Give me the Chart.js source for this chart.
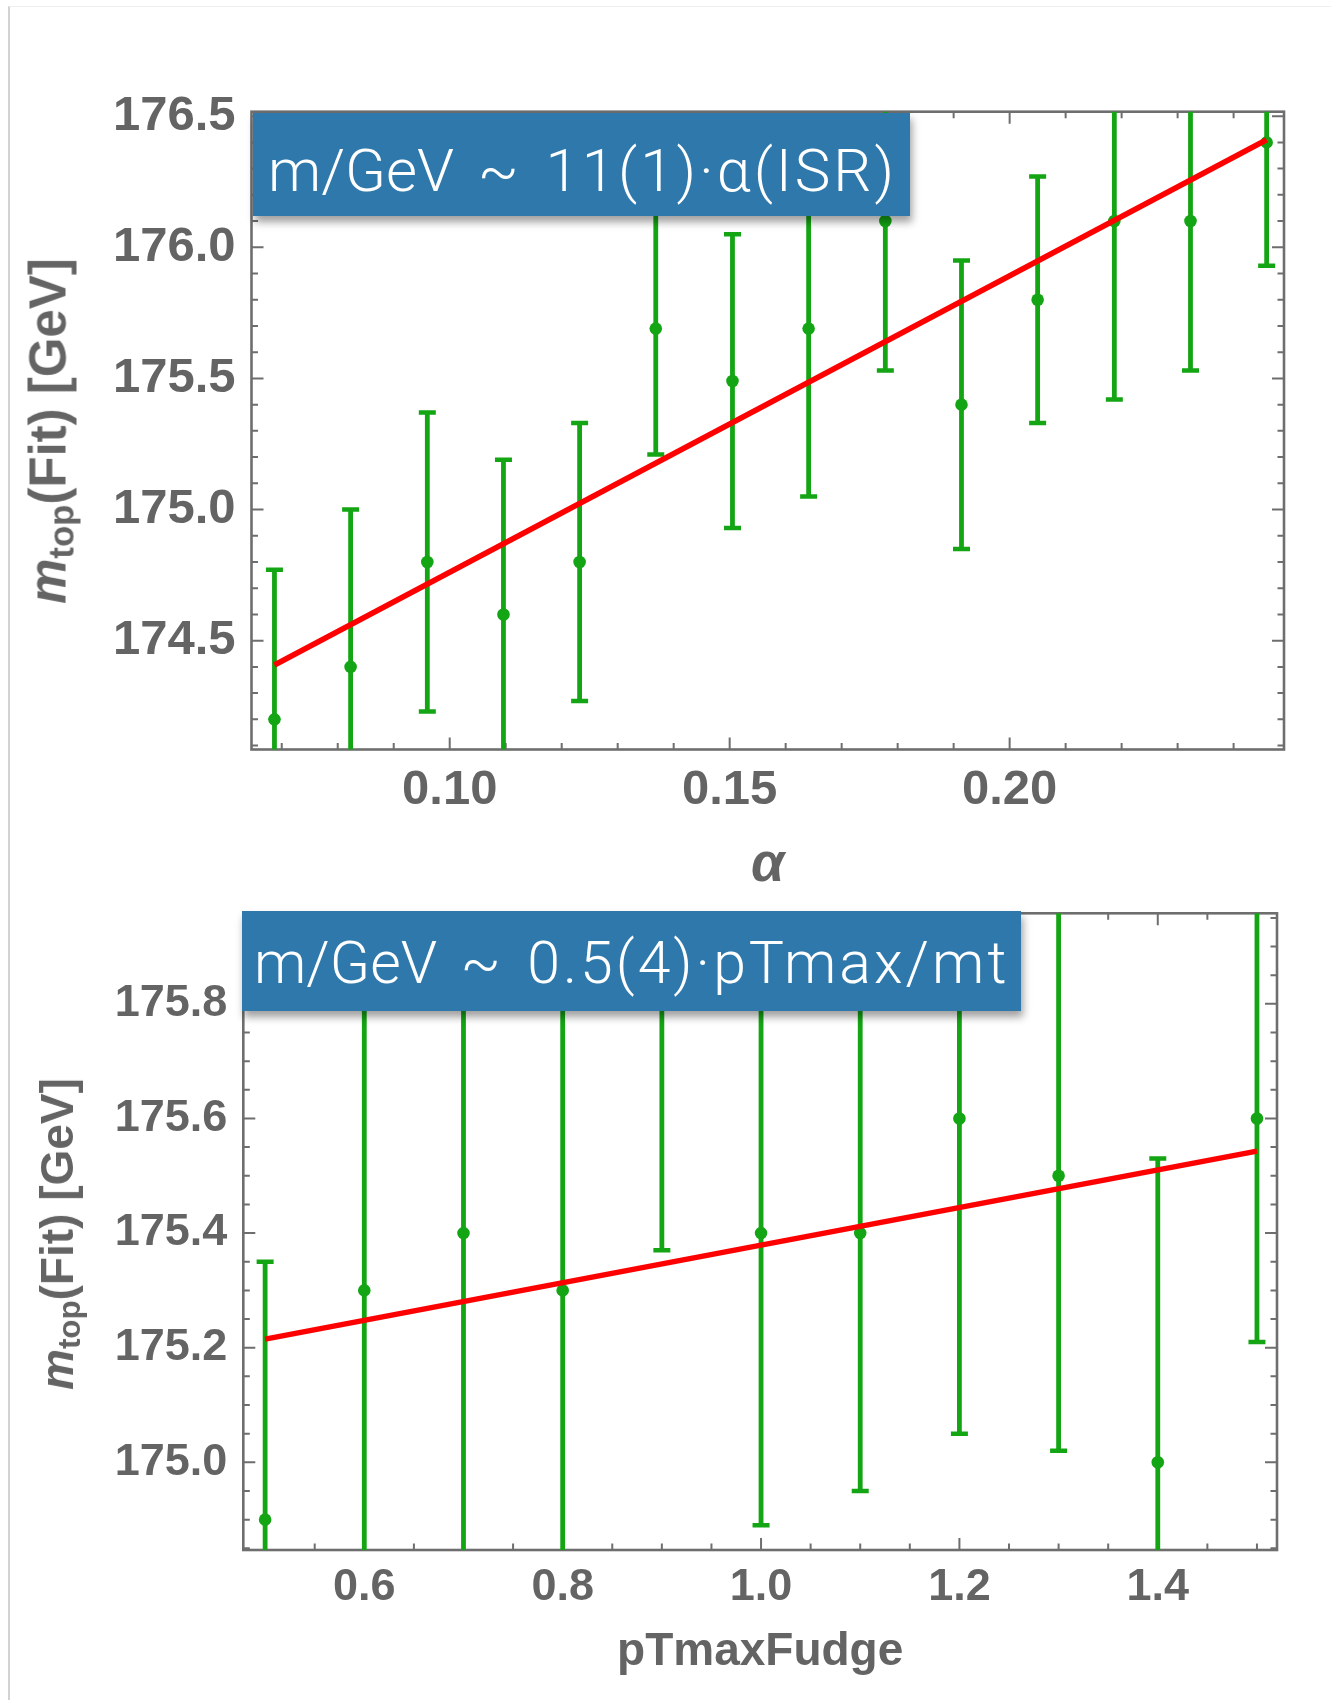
<!DOCTYPE html>
<html>
<head>
<meta charset="utf-8">
<title>Top mass fit vs. shower parameters</title>
<script src="https://cdn.jsdelivr.net/npm/chart.js@4.4.1/dist/chart.umd.min.js"></script>
<style>
  html, body { margin: 0; padding: 0; background: #fff; }
  body { width: 1331px; height: 1700px; position: relative; overflow: hidden;
         font-family: "Liberation Sans", Arial, sans-serif; }
  .sheet { position: absolute; left: 8px; top: 6px; width: 1340px; height: 1710px;
           border-left: 2px solid #d2d2d2; border-top: 1px solid #efefef; }
  .plot { position: absolute; left: 0; }
  #wrapA { top: 0; width: 1331px; height: 900px; }
  #wrapB { top: 850px; width: 1331px; height: 850px; }
  .ytitle { position: absolute; transform: translate(-50%, -50%) rotate(-90deg);
            white-space: nowrap; font-weight: bold; color: #646464; line-height: 1; }
  .ytitle i { font-style: italic; }
  .ytitle sub { font-size: 0.68em; vertical-align: -0.22em; line-height: 0; }
  .callout { position: absolute; background: #2e78ab; color: #fff;
             font-family: Roboto, "Open Sans", "Liberation Sans", sans-serif; font-weight: 300;
             box-shadow: 2px 6px 8px rgba(0, 0, 0, 0.38); white-space: nowrap; }
  .callout > span { position: absolute; left: 0; line-height: 1; }
  .callout .rest { letter-spacing: 3px; word-spacing: 6px; }
</style>
</head>
<body>
<div class="sheet"></div>

<div class="plot" id="wrapA"><canvas id="chartA" width="1331" height="900"></canvas></div>
<div class="plot" id="wrapB"><canvas id="chartB" width="1331" height="850"></canvas></div>

<div class="ytitle" style="left:48px; top:431px; font-size:51px;"><i>m</i><sub>top</sub>(Fit) [GeV]</div>
<div class="ytitle" style="left:57px; top:1234px; font-size:46px;"><i>m</i><sub>top</sub>(Fit) [GeV]</div>

<div class="callout" style="left:253px; top:113px; width:657px; height:103px;">
  <span style="left:15px; top:28px; font-size:60px;">m/GeV<span class="rest"> ~ 11(1)·α(ISR)</span></span>
</div>
<div class="callout" style="left:242px; top:911px; width:779px; height:100px;">
  <span style="left:12px; top:22px; font-size:59px;">m/GeV<span class="rest"> ~ 0.5(4)·pTmax/mt</span></span>
</div>

<script>
// ---- upper panel: fitted top mass vs. ISR alpha ----
const alphaISR = [0.0687, 0.0823, 0.0960, 0.1096, 0.1232, 0.1368, 0.1505,
                  0.1641, 0.1778, 0.1914, 0.2050, 0.2187, 0.2323, 0.2459];
const mTopAlpha = [174.20, 174.40, 174.80, 174.60, 174.80, 175.69, 175.49,
                   175.69, 176.10, 175.40, 175.80, 176.10, 176.10, 176.40];
const mTopAlphaErr = [0.57, 0.60, 0.57, 0.59, 0.53, 0.48, 0.56,
                      0.64, 0.57, 0.55, 0.47, 0.68, 0.57, 0.47];
const fitAlphaX = [0.0687, 0.2459];
const fitAlphaY = [174.407, 176.410];
const alphaTickLabels = [0.10, 0.15, 0.20];
const massTickLabelsA = [174.5, 175.0, 175.5, 176.0, 176.5];

// ---- lower panel: fitted top mass vs. pTmaxFudge ----
const pTmaxFudge = [0.5, 0.6, 0.7, 0.8, 0.9, 1.0, 1.1, 1.2, 1.3, 1.4, 1.5];
const mTopFudge = [174.90, 175.30, 175.40, 175.30, 175.90, 175.40,
                   175.40, 175.60, 175.50, 175.00, 175.60];
const mTopFudgeErr = [0.45, 0.70, 0.60, 0.70, 0.53, 0.51,
                      0.45, 0.55, 0.48, 0.53, 0.39];
const fitFudgeX = [0.5, 1.5];
const fitFudgeY = [175.215, 175.543];
const fudgeTickLabels = [0.6, 0.8, 1.0, 1.2, 1.4];
const massTickLabelsB = [175.0, 175.2, 175.4, 175.6, 175.8];

const GREEN = '#14a514';
const RED = '#ff0000';
const GREY_TEXT = '#646464';
const FRAME = '#6e6e6e';
const FONT = "'Liberation Sans', Arial, sans-serif";

// Frame on all four sides with inward major/minor ticks, taken from the scales.
const frameTicks = {
  id: 'frameTicks',
  beforeDatasetsDraw(chart, args, o) {
    const { ctx, chartArea: a, scales: { x, y } } = chart;
    ctx.save();
    ctx.strokeStyle = FRAME;
    ctx.lineCap = 'butt';
    ctx.lineWidth = 2;
    const marks = (scale, minor, major) => {
      const k0 = Math.ceil(scale.min / minor - 1e-6);
      const k1 = Math.floor(scale.max / minor + 1e-6);
      for (let k = k0; k <= k1; k++) {
        const v = k * minor;
        const r = v / major;
        const len = Math.abs(r - Math.round(r)) < 1e-6 ? o.majorLen : o.minorLen;
        const p = scale.getPixelForValue(v);
        ctx.beginPath();
        if (scale.isHorizontal()) {
          ctx.moveTo(p, a.bottom); ctx.lineTo(p, a.bottom - len);
          ctx.moveTo(p, a.top); ctx.lineTo(p, a.top + len);
        } else {
          ctx.moveTo(a.left, p); ctx.lineTo(a.left + len, p);
          ctx.moveTo(a.right, p); ctx.lineTo(a.right - len, p);
        }
        ctx.stroke();
      }
    };
    marks(x, o.xMinor, o.xMajor);
    marks(y, o.yMinor, o.yMajor);
    ctx.lineWidth = 2.6;
    ctx.strokeRect(a.left, a.top, a.width, a.height);
    ctx.restore();
  }
};

// Vertical error bars with flat caps for any dataset that carries `errors`.
const errorBars = {
  id: 'errorBars',
  beforeDatasetsDraw(chart, args, o) {
    const { ctx, chartArea: a, scales: { x, y } } = chart;
    ctx.save();
    ctx.beginPath();
    ctx.rect(a.left, a.top, a.width, a.height);
    ctx.clip();
    ctx.strokeStyle = GREEN;
    ctx.lineCap = 'butt';
    chart.data.datasets.forEach(ds => {
      if (!ds.errors) return;
      ds.data.forEach((pt, i) => {
        const e = ds.errors[i];
        const px = x.getPixelForValue(pt.x);
        const top = y.getPixelForValue(pt.y + e);
        const bot = y.getPixelForValue(pt.y - e);
        ctx.lineWidth = o.barWidth;
        ctx.beginPath();
        ctx.moveTo(px, top); ctx.lineTo(px, bot);
        ctx.stroke();
        ctx.lineWidth = o.capThick;
        ctx.beginPath();
        ctx.moveTo(px - o.capHalf, top); ctx.lineTo(px + o.capHalf, top);
        ctx.moveTo(px - o.capHalf, bot); ctx.lineTo(px + o.capHalf, bot);
        ctx.stroke();
      });
    });
    ctx.restore();
  }
};

function makePanel(canvasId, cfg) {
  const points = cfg.xs.map((v, i) => ({ x: v, y: cfg.ys[i] }));
  const fit = cfg.fitX.map((v, i) => ({ x: v, y: cfg.fitY[i] }));
  return new Chart(document.getElementById(canvasId), {
    type: 'scatter',
    data: {
      datasets: [
        { data: fit, showLine: true, pointRadius: 0, borderColor: RED,
          borderWidth: 5.5, borderCapStyle: 'butt', fill: false },
        { data: points, errors: cfg.errs, pointRadius: 6.3, pointHoverRadius: 6.3,
          backgroundColor: GREEN, borderWidth: 0, showLine: false }
      ]
    },
    options: {
      responsive: false,
      animation: false,
      events: [],
      layout: { padding: { left: 0, top: cfg.areaTop, right: cfg.padRight, bottom: 0 } },
      plugins: {
        legend: { display: false },
        tooltip: { enabled: false },
        frameTicks: { xMinor: cfg.xMinor, xMajor: cfg.xMajor, yMinor: cfg.yMinor,
                      yMajor: cfg.yMajor, majorLen: 12, minorLen: 6.5 },
        errorBars: { barWidth: 4.8, capThick: 4.5, capHalf: 8.5 }
      },
      scales: {
        x: {
          type: 'linear', position: 'bottom', min: cfg.xMin, max: cfg.xMax,
          grid: { display: false }, border: { display: false },
          afterBuildTicks: s => { s.ticks = cfg.xTicks.map(v => ({ value: v })); },
          afterFit: s => { s.height = cfg.xAxisHeight; },
          ticks: { autoSkip: false, maxRotation: 0, padding: cfg.xPad, color: GREY_TEXT,
                   font: { family: FONT, size: cfg.tickSize, weight: 'bold' },
                   callback: v => Number(v).toFixed(cfg.xDigits) },
          title: { display: true, text: cfg.xTitle, color: GREY_TEXT,
                   padding: { top: 0, bottom: cfg.titlePad },
                   font: { family: FONT, size: cfg.titleSize, weight: 'bold', style: cfg.titleStyle } }
        },
        y: {
          type: 'linear', position: 'left', min: cfg.yMin, max: cfg.yMax,
          grid: { display: false }, border: { display: false },
          afterBuildTicks: s => { s.ticks = cfg.yTicks.map(v => ({ value: v })); },
          afterFit: s => { s.width = cfg.areaLeft; },
          ticks: { autoSkip: false, padding: cfg.yPad, color: GREY_TEXT,
                   font: { family: FONT, size: cfg.tickSize, weight: 'bold' },
                   callback: v => Number(v).toFixed(1) }
        }
      }
    },
    plugins: [frameTicks, errorBars]
  });
}

makePanel('chartA', {
  xs: alphaISR, ys: mTopAlpha, errs: mTopAlphaErr, fitX: fitAlphaX, fitY: fitAlphaY,
  xTicks: alphaTickLabels, yTicks: massTickLabelsA, xDigits: 2,
  xMin: 0.0646, xMax: 0.2490, yMin: 174.085, yMax: 176.517,
  xMinor: 0.01, xMajor: 0.05, yMinor: 0.1, yMajor: 0.5,
  areaLeft: 251.5, areaTop: 111.7, padRight: 47, xAxisHeight: 150.5,
  tickSize: 49, xPad: 3.5, yPad: 8,
  xTitle: 'α', titleSize: 54, titleStyle: 'italic', titlePad: 1.6
});

makePanel('chartB', {
  xs: pTmaxFudge, ys: mTopFudge, errs: mTopFudgeErr, fitX: fitFudgeX, fitY: fitFudgeY,
  xTicks: fudgeTickLabels, yTicks: massTickLabelsB, xDigits: 1,
  xMin: 0.478, xMax: 1.5202, yMin: 174.847, yMax: 175.958,
  xMinor: 0.05, xMajor: 0.2, yMinor: 0.05, yMajor: 0.2,
  areaLeft: 243.3, areaTop: 63.3, padRight: 54, xAxisHeight: 150,
  tickSize: 45, xPad: 2.7, yPad: 8,
  xTitle: 'pTmaxFudge', titleSize: 46, titleStyle: 'normal', titlePad: 19.6
});
</script>
</body>
</html>
